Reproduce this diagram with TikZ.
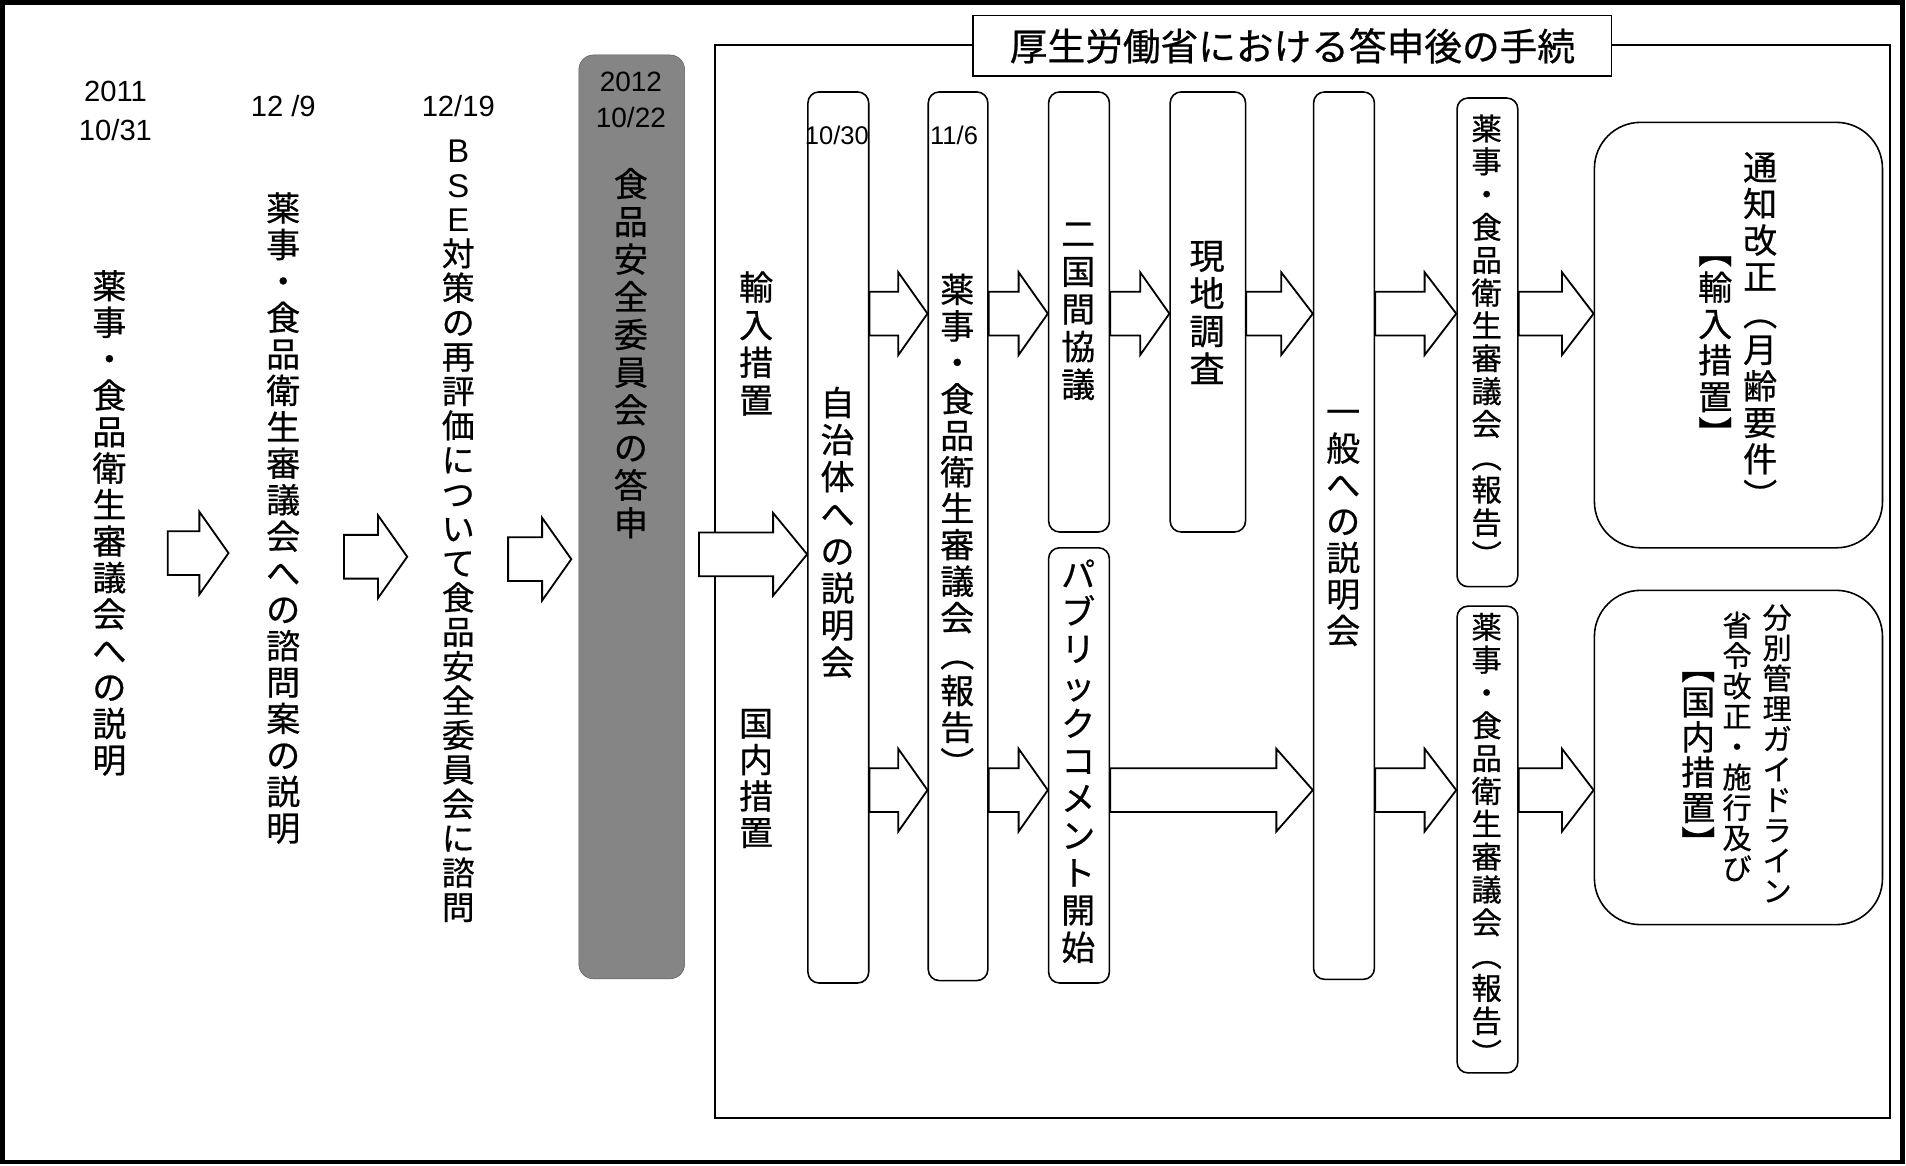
\documentclass[tikz,border=0pt]{standalone}
\usepackage{fontspec}
\usepackage{graphicx}
\newfontfamily\jp[FakeBold=0.6]{Noto Sans CJK JP}
\newfontfamily\lat{Liberation Sans}
\usetikzlibrary{calc}
\makeatletter
\newcommand\vt[2][30pt]{\vbox{\baselineskip=#1\relax\lineskiplimit=-100pt\relax\lineskip=0pt\relax\@tfor\vt@c:=#2\do{\hbox to 1em{\hss\vt@c\hss}}}}
\makeatother
\newcommand\rp[1]{\rotatebox[origin=c]{-90}{#1}}
% block arrow: #1 head length, #2 start point, #3 tip point
\newcommand\barr[3][24]{%
  \draw[blk] let \p1=(#2), \p2=(#3) in
   (\x1,\y2+18) -- (\x2-#1,\y2+18) -- (\x2-#1,\y2+34) -- (\x2,\y2) --
   (\x2-#1,\y2-34) -- (\x2-#1,\y2-18) -- (\x1,\y2-18) -- cycle;}
\begin{document}
\begin{tikzpicture}[x=1pt,y=1pt,
  col/.style={draw, line width=1.3pt, rounded corners=9pt, fill=white, inner sep=0pt, anchor=north west},
  blk/.style={draw, line width=1.5pt, fill=white, line join=miter},
  vtxt/.style={font=\jp\fontsize{28}{30}\selectfont, inner sep=0pt, anchor=north},
  stxt/.style={font=\jp\fontsize{25}{27}\selectfont, inner sep=0pt, anchor=north},
  date/.style={font=\lat\fontsize{24}{32}\selectfont, align=center, inner sep=0pt},
  sdate/.style={font=\lat\fontsize{21}{21}\selectfont, inner sep=0pt, anchor=west},
]
\useasboundingbox (0,0) rectangle (1568,-959);
% outer border
\draw[line width=3.5pt] (2,-2) rectangle (1565,-956);
% inner frame
\draw[line width=1.5pt] (588,-37) rectangle (1555,-920);
\node[draw, line width=1.5pt, fill=white, minimum width=525pt, minimum height=50pt,
  anchor=north west, inner sep=0pt, font=\jp\fontsize{31}{31}\selectfont] (title) at (800,-12)
  {厚生労働省における答申後の手続};

% left timeline
\node[date] (d1) at (95,-91) {2011\\10/31};
\node[vtxt] (t1) at (90,-222) {\vt{薬事・食品衛生審議会への説明}};
\node[date] (d2) at (233,-87) {12 /9};
\node[vtxt] (t2) at (233,-158) {\vt{薬事・食品衛生審議会への諮問案の説明}};
\node[date] (d3) at (377,-87) {12/19};
\node[vtxt, font=\jp\fontsize{27}{28}\selectfont] (t3) at (377,-115)
  {\vt[28.3pt]{{\lat B}{\lat S}{\lat E}対策の再評価について食品安全委員会に諮問}};

% grey box
\node[fill=black!48, draw=black!65, rounded corners=12pt, minimum width=87pt, minimum height=760pt,
  anchor=north west, inner sep=0pt] (Q) at (476,-45) {};
\node[date, font=\lat\fontsize{23}{30}\selectfont] (d4) at (519,-82) {2012\\10/22};
\node[vtxt] (t4) at (519,-138) {\vt[31pt]{食品安全委員会の答申}};

\coordinate (l1s) at (138,-455); \coordinate (l1e) at (188,-455);
\coordinate (l2s) at (283,-458); \coordinate (l2e) at (335,-458);
\coordinate (l3s) at (418,-460); \coordinate (l3e) at (470,-460);
\barr{l1s}{l1e}
\barr{l2s}{l2e}
\barr{l3s}{l3e}

% labels in frame
\node[vtxt] (imp) at (622,-223) {\vt[31pt]{輸入措置}};
\node[vtxt] (dom) at (622,-583) {\vt{国内措置}};

% columns
\node[col, minimum width=50pt, minimum height=733pt] (A) at (664,-75) {};
\node[col, minimum width=49pt, minimum height=731pt] (B) at (763,-75) {};
\node[col, minimum width=50pt, minimum height=362pt] (C1) at (862,-75) {};
\node[col, minimum width=50pt, minimum height=358pt] (C2) at (862,-450) {};
\node[col, minimum width=62pt, minimum height=362pt] (D) at (962,-75) {};
\node[col, minimum width=50pt, minimum height=730pt] (E) at (1080,-75) {};
\node[col, minimum width=50pt, minimum height=402pt] (F1) at (1198,-80) {};
\node[col, minimum width=50pt, minimum height=384pt] (F2) at (1198,-498) {};
\node[col, rounded corners=38pt, minimum width=237pt, minimum height=350pt] (G1) at (1311,-100) {};
\node[col, rounded corners=38pt, minimum width=237pt, minimum height=275pt] (G2) at (1311,-485) {};

\node[sdate] (dA) at (662,-111) {10/30};
\node[sdate] (dB) at (765,-111) {11/6};
\node[vtxt] (tA) at (689,-318) {\vt[30.5pt]{自治体への説明会}};
\node[vtxt] (tB) at (787.5,-225) {\vt{薬事・食品衛生審議会{\rp（}報告{\rp）}}};
\node[vtxt] (tC1) at (887,-183) {\vt[31pt]{二国間協議}};
\node[vtxt] (tC2) at (887,-460) {\vt[30.7pt]{パブリックコメント開始}};
\node[vtxt, font=\jp\fontsize{29}{31}\selectfont] (tD) at (993,-198) {\vt[31pt]{現地調査}};
\node[vtxt] (tE) at (1105,-337) {\vt{一般への説明会}};
\node[stxt] (tF1) at (1223,-94) {\vt[27pt]{薬事・食品衛生審議会{\rp（}報告{\rp）}}};
\node[stxt] (tF2) at (1223,-504) {\vt[27pt]{薬事・食品衛生審議会{\rp（}報告{\rp）}}};
\node[vtxt] (tG1a) at (1448,-125) {\vt{通知改正{\rp（}月齢要件{\rp）}}};
\node[vtxt] (tG1b) at (1411,-192) {\vt{{\rp【}輸入措置{\rp】}}};
\node[stxt, font=\jp\fontsize{24}{25}\selectfont] (tG2a) at (1462,-497) {\vt[25pt]{分別管理ガイドライン}};
\node[stxt, font=\jp\fontsize{24}{25}\selectfont] (tG2b) at (1429,-503) {\vt[25pt]{省令改正・施行及び}};
\node[vtxt] (tG2c) at (1397,-534) {\vt[29pt]{{\rp【}国内措置{\rp】}}};

% entry arrow
\coordinate (qs) at (575,-456);
\barr[28]{qs}{A.west |- qs}

% upper row
\barr{A.east |- 0,-258}{B.west |- 0,-258}
\barr{B.east |- 0,-258}{C1.west |- 0,-258}
\barr{C1.east |- 0,-258}{D.west |- 0,-258}
\barr[26]{D.east |- 0,-258}{E.west |- 0,-258}
\barr[26]{E.east |- 0,-258}{F1.west |- 0,-258}
\barr[26]{F1.east |- 0,-258}{G1.west |- 0,-258}
% lower row
\barr{A.east |- 0,-650}{B.west |- 0,-650}
\barr{B.east |- 0,-650}{C2.west |- 0,-650}
\barr[30]{C2.east |- 0,-650}{E.west |- 0,-650}
\barr[26]{E.east |- 0,-650}{F2.west |- 0,-650}
\barr[26]{F2.east |- 0,-650}{G2.west |- 0,-650}
\end{tikzpicture}
\end{document}
